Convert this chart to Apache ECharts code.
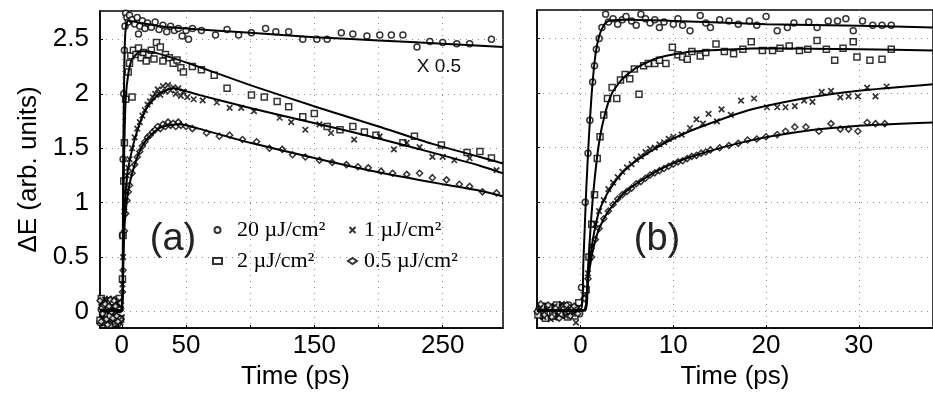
<!DOCTYPE html>
<html>
<head>
	<meta charset="utf-8">
	<title>Delta E transients</title>
	<script src="https://cdn.jsdelivr.net/npm/echarts@6/dist/echarts.min.js"></script>
</head>
<body style="margin:0;background:#fff;">
<div id="container" style="width: 933px;height: 396px;"></div>
<script type="text/javascript">
    // fluences (legend names) and their markers
    var names = ['20 µJ/cm²', '2 µJ/cm²', '1 µJ/cm²', '0.5 µJ/cm²'];
    var symbols = ['circle', 'rect', 'path://M0,0L10,10M10,0L0,10', 'diamond'];

    // axis ticks
    var yTicks = [0, 0.5, 1, 1.5, 2, 2.5];
    var xLabelsA = [0, 50, 150, 250];
    var xGridA = [0, 50, 100, 150, 200, 250];
    var xLabelsB = [0, 10, 20, 30];

    // panel (a): measured points [time ps, dE]
    var a20 = [[-17,-0.1],[-16,0.02],[-15,0.1],[-14,-0.05],[-13,0.0],[-12,0.04],[-11,-0.12],[-10,-0.08],[-9,0.09],[-8,0.06],[-7,-0.1],[-6,-0.03],[-5,0.11],[-4,0.08],[-3,-0.11],[-2,-0.06],[-1,0.03],
        [0.5,0.7],[1,1.4],[1.5,2.0],[2,2.4],[2.5,2.62],
        [3,2.74],[4,2.7],[5,2.66],[6,2.72],[8,2.68],[10,2.64],[12,2.7],[13,2.55],[14,2.62],[16,2.67],[18,2.6],[20,2.65],[23,2.61],
        [26,2.66],[29,2.59],[32,2.63],[35,2.57],[38,2.62],[41,2.58],[44,2.6],[47,2.53],[50,2.58],[52,2.5],[55,2.6],[62,2.58],
        [73,2.54],[82,2.59],[91,2.54],[101,2.56],[112,2.6],[120,2.57],[130,2.57],[141,2.5],[152,2.5],[160,2.5],[171,2.56],
        [180,2.55],[191,2.53],[201,2.54],[210,2.54],[219,2.54],[230,2.43],[240,2.48],[250,2.47],[261,2.46],[271,2.46],[288,2.5]];
    var a2 = [[-17,-0.08],[-16,0.12],[-15,0.05],[-14,0.08],[-13,-0.1],[-12,-0.02],[-11,0.1],[-10,0.03],[-9,-0.04],[-8,-0.12],[-7,0.09],[-6,0.0],[-5,-0.11],[-4,0.04],[-3,0.02],[-2,0.12],[-1,-0.07],
        [0.5,0.3],[1,0.7],[1.5,1.2],[2,1.55],[3,1.95],[5,2.2],
        [6,2.28],[7,2.35],[8,1.97],[9,2.4],[11,2.36],[13,2.42],[15,2.33],[17,2.38],[19,2.3],[21,2.36],[23,2.4],[25,2.32],
        [27,2.47],[30,2.43],[32,2.3],[34,2.36],[37,2.33],[40,2.28],[43,2.31],[46,2.24],[48,2.2],[55,2.25],[62,2.22],
        [72,2.17],[82,2.05],[101,1.99],[111,1.97],[121,1.93],[130,1.88],[141,1.79],[150,1.82],[160,1.7],[170,1.67],
        [180,1.7],[189,1.65],[198,1.62],[219,1.55],[228,1.61],[249,1.53],[269,1.46],[279,1.47],[288,1.41]];
    var a1 = [[-16,0.08],[-15,-0.06],[-14,-0.11],[-13,0.11],[-12,0.0],[-11,0.06],[-10,0.12],[-9,0.01],[-8,-0.1],[-7,0.02],[-6,0.04],[-5,-0.03],[-4,-0.12],[-3,0.07],[-2,0.1],[-1,-0.1],[0,-0.05],
        [0.5,0.25],[1,0.5],[2,0.92],[3,1.1],[4,1.25],[5,1.32],[6,1.4],[8,1.5],[10,1.6],[12,1.68],[14,1.74],[16,1.8],
        [18,1.85],[20,1.9],[22,1.93],[24,1.97],[26,2.0],[28,2.04],[30,1.99],[32,2.07],[34,2.02],[36,2.08],[38,2.03],
        [40,2.06],[42,2.0],[44,2.05],[46,1.98],[48,2.02],[51,1.97],[56,1.95],
        [63,1.94],[74,1.92],[84,1.87],[93,1.87],[103,1.84],[123,1.78],[132,1.74],[143,1.67],[154,1.72],[163,1.64],
        [181,1.58],[201,1.61],[212,1.49],[222,1.55],[232,1.51],[242,1.42],[250,1.42],[259,1.39],[271,1.41],[292,1.3]];
    var a05 = [[-17,0.1],[-16,-0.09],[-15,-0.02],[-14,0.06],[-13,0.07],[-12,-0.07],[-11,-0.12],[-10,0.05],[-9,0.11],[-8,0.0],[-7,-0.06],[-6,0.1],[-5,0.05],[-4,-0.04],[-3,-0.09],[-2,0.02],[-1,0.08],
        [0.5,0.18],[1,0.38],[2,0.74],[3,0.9],[4,1.02],[5,1.1],[6,1.16],[8,1.27],[10,1.35],[12,1.42],[14,1.47],[16,1.52],
        [18,1.56],[20,1.6],[22,1.62],[24,1.65],[26,1.67],[28,1.7],[30,1.68],[32,1.72],[34,1.7],[36,1.74],[38,1.71],
        [40,1.73],[42,1.7],[44,1.74],[46,1.71],[50,1.7],[55,1.68],
        [66,1.64],[76,1.61],[84,1.62],[94,1.58],[105,1.56],[115,1.5],[125,1.49],[133,1.44],[143,1.42],[154,1.39],
        [164,1.37],[175,1.35],[184,1.33],[192,1.32],[202,1.29],[211,1.27],[222,1.26],[232,1.27],[242,1.23],[253,1.21],
        [263,1.17],[271,1.15],[281,1.1],[292,1.09]];

    // panel (a): fitted curves
    var fitA20 = [[-17,0.01],[0,0.01],[1,1.3],[2,2.3],[3,2.6],[5,2.67],[15,2.65],[30,2.62],[50,2.6],[100,2.56],[150,2.52],[200,2.49],[250,2.46],[297,2.43]];
    var fitA2 = [[-17,0.01],[0,0.01],[1,0.7],[1.5,1.2],[2,1.55],[3,1.95],[5,2.18],[8,2.32],[15,2.39],[25,2.38],[52,2.28],[100,2.08],[154,1.87],[200,1.7],[242,1.54],[279,1.42],[297,1.36]];
    var fitA1 = [[-17,0.01],[0,0.01],[1,0.5],[2,0.92],[4,1.24],[6,1.38],[10,1.58],[15,1.76],[20,1.88],[30,2.01],[40,2.05],[60,1.99],[100,1.87],[154,1.72],[200,1.59],[242,1.46],[279,1.34],[297,1.27]];
    var fitA05 = [[-17,0.01],[0,0.01],[1,0.35],[2,0.76],[4,1.03],[6,1.17],[10,1.35],[15,1.5],[20,1.59],[30,1.69],[45,1.72],[60,1.68],[100,1.55],[154,1.4],[200,1.28],[250,1.17],[279,1.11],[297,1.06]];

    // panel (b): measured points
    var b20 = [[-4.5,0.02],[-4.1,-0.04],[-3.7,0.05],[-3.3,-0.02],[-2.9,0.03],[-2.5,-0.05],[-2.1,0.04],[-1.7,-0.03],[-1.3,0.06],[-0.9,0.0],[-0.5,0.04],[-0.1,-0.02],
        [0.1,0.22],[0.5,1.0],[0.8,1.45],[1.0,1.75],[1.3,2.1],[1.5,2.25],[1.7,2.4],[2.0,2.5],[2.3,2.6],
        [2.7,2.72],[3,2.65],[3.5,2.68],[4,2.63],[4.5,2.67],[4.9,2.7],[5.5,2.66],[6,2.62],[6.5,2.72],[7,2.68],[7.5,2.64],
        [8,2.67],[8.5,2.6],[9,2.65],[10,2.63],[10.5,2.68],[11,2.62],[11.8,2.57],[12.9,2.71],[13.5,2.64],[14,2.6],[15,2.67],
        [16,2.66],[17,2.63],[18.2,2.66],[19,2.62],[20,2.7],[21.2,2.57],[22.3,2.6],[23,2.64],[24.6,2.65],[25.5,2.6],
        [26.7,2.66],[27.7,2.66],[28.6,2.68],[29.4,2.57],[30.4,2.66],[31.5,2.62],[32.5,2.62],[33.5,2.62]];
    var b2 = [[-4.6,-0.03],[-4.2,0.05],[-3.8,-0.06],[-3.4,0.04],[-3.0,-0.04],[-2.6,0.06],[-2.2,-0.02],[-1.8,0.05],[-1.4,-0.05],[-1.0,0.03],[-0.6,-0.04],[-0.2,0.08],
        [0.6,0.2],[0.9,0.5],[1.2,0.8],[1.5,1.07],[1.8,1.4],[2.1,1.6],[2.5,1.8],[2.9,1.95],[3.4,2.05],[3.9,1.95],[4.3,2.12],
        [4.8,2.17],[5.3,2.13],[5.8,2.22],[6.3,1.99],[6.8,2.25],[7.3,2.27],[8,2.27],[8.5,2.3],[9.2,2.27],[9.9,2.42],[10.5,2.35],
        [11,2.33],[11.5,2.31],[12,2.38],[12.9,2.34],[13.5,2.37],[14.6,2.45],[15.5,2.38],[16.5,2.36],[17.5,2.4],[18.4,2.47],
        [19.6,2.39],[20.7,2.39],[21.5,2.41],[22.5,2.43],[23.6,2.39],[24.5,2.4],[25.5,2.48],[26.5,2.4],[27.4,2.3],[28.3,2.41],
        [29.4,2.47],[29.8,2.33],[31.2,2.3],[32.5,2.31],[33.5,2.4]];
    var b1 = [[-4.4,0.03],[-4.0,-0.05],[-3.6,0.02],[-3.2,-0.07],[-2.8,0.05],[-2.4,-0.03],[-2.0,0.07],[-1.6,-0.04],[-1.2,0.03],[-0.8,-0.02],[-0.5,-0.1],[-0.2,0.04],
        [0.4,0.15],[0.8,0.35],[1.2,0.6],[1.6,0.8],[2,0.92],[2.5,1.02],[3,1.12],[3.5,1.18],[4,1.23],[4.5,1.28],[5,1.32],
        [5.5,1.35],[6,1.39],[6.5,1.42],[7,1.46],[7.5,1.49],[8,1.5],[8.5,1.53],[9,1.55],[9.5,1.58],[10,1.6],[10.9,1.62],
        [11.8,1.68],[12.5,1.76],[13.2,1.72],[13.8,1.81],[14.7,1.74],[15.2,1.85],[16.2,1.8],[17.3,1.93],[18.7,1.95],[20.1,1.87],
        [21.2,1.87],[22.1,1.87],[23.1,1.88],[24.1,1.93],[25,1.92],[26,2.01],[27,2.02],[28,1.96],[28.9,1.97],[29.9,1.97],
        [30.9,2.05],[31.8,1.97],[33,2.06]];
    var b05 = [[-4.7,0.0],[-4.3,0.07],[-3.9,-0.03],[-3.5,0.06],[-3.1,-0.05],[-2.7,0.03],[-2.3,-0.06],[-1.9,0.02],[-1.5,0.06],[-1.1,-0.04],[-0.7,0.05],[-0.3,-0.02],
        [0.4,0.12],[0.8,0.3],[1.2,0.5],[1.6,0.66],[2,0.76],[2.5,0.85],[3,0.92],[3.5,0.98],[4,1.03],[4.5,1.07],[5,1.1],
        [5.5,1.13],[6,1.17],[6.5,1.19],[7,1.22],[7.5,1.25],[8,1.27],[8.5,1.29],[9,1.31],[9.5,1.33],[10,1.35],[10.5,1.37],
        [11,1.38],[11.5,1.4],[12,1.42],[12.5,1.43],[13,1.45],[13.5,1.46],[14,1.48],[15,1.5],[16,1.52],[17,1.54],[18,1.57],
        [19,1.58],[20,1.6],[21.2,1.62],[22.1,1.65],[23.1,1.69],[24.3,1.69],[25.7,1.65],[27,1.72],[28,1.67],[28.9,1.67],
        [29.9,1.65],[30.9,1.73],[31.8,1.72],[32.8,1.72]];

    // panel (b): fitted curves
    var fitB20 = [[-4.7,0.01],[0,0.01],[0.3,0.45],[0.6,1.1],[0.9,1.6],[1.2,2.0],[1.6,2.35],[2,2.52],[2.5,2.62],[3,2.66],[5,2.67],[10,2.66],[20,2.63],[30,2.615],[38,2.6]];
    var fitB2 = [[-4.7,0.01],[0.5,0.01],[0.8,0.4],[1.1,0.8],[1.5,1.2],[2,1.55],[2.6,1.8],[3.4,2.0],[4.5,2.13],[6,2.23],[8.3,2.32],[12,2.38],[20,2.41],[30,2.4],[38,2.39]];
    var fitB1 = [[-4.7,0.01],[0.3,0.01],[0.8,0.35],[1.3,0.65],[2,0.92],[3,1.1],[4.5,1.27],[6,1.38],[9,1.54],[12,1.66],[18,1.84],[24,1.95],[30,2.02],[38,2.08]];
    var fitB05 = [[-4.7,0.01],[0.3,0.01],[0.8,0.3],[1.3,0.55],[2,0.76],[3,0.92],[4.5,1.07],[6,1.17],[9,1.32],[12,1.42],[18,1.56],[24,1.65],[30,1.7],[38,1.73]];

    var pointsA = [a20, a2, a1, a05];
    var pointsB = [b20, b2, b1, b05];
    var fitsA = [fitA20, fitA2, fitA1, fitA05];
    var fitsB = [fitB20, fitB2, fitB1, fitB05];

    var sans = 'Liberation Sans';
    var gridLine = { show: true, lineStyle: { color: '#8a8a8a', type: [1, 5], width: 1 } };
    var blackLine = { onZero: false, lineStyle: { color: '#000', width: 1.5 } };

    var myChart = echarts.init(document.getElementById('container'));

    var series = [];
    [pointsA, pointsB].forEach(function (panel, p) {
        panel.forEach(function (pts, i) {
            series.push({
                name: names[i],
                type: 'scatter',
                xAxisIndex: p,
                yAxisIndex: p,
                data: pts,
                symbol: symbols[i],
                symbolSize: i == 2 ? 5.5 : 6,
                symbolKeepAspect: true,
                itemStyle: { color: '#fff', borderColor: '#000', borderWidth: i == 2 ? 1.7 : 1.5 },
                z: 2
            });
        });
    });
    [fitsA, fitsB].forEach(function (panel, p) {
        panel.forEach(function (pts, i) {
            series.push({
                name: names[i],
                type: 'line',
                xAxisIndex: p,
                yAxisIndex: p,
                data: pts,
                showSymbol: false,
                smooth: 0.2,
                lineStyle: { color: '#000', width: 2 },
                z: 3
            });
        });
    });

    var option = {
        animation: false,
        backgroundColor: '#fff',
        grid: [
            { left: 100, top: 11, width: 403, height: 317, show: true, borderColor: '#000', borderWidth: 1.5 },
            { left: 537, top: 10, width: 440, height: 318, show: true, borderColor: '#000', borderWidth: 1.5 }
        ],
        xAxis: [
            {
                gridIndex: 0, type: 'value', min: -17, max: 297,
                axisLine: blackLine,
                axisTick: { inside: true, length: 3, customValues: xGridA, lineStyle: { color: '#000' } },
                axisLabel: { customValues: xLabelsA, margin: 5, color: '#000', fontSize: 26, fontFamily: sans },
                splitLine: gridLine,
                name: 'Time (ps)', nameLocation: 'middle', nameGap: 33,
                nameTextStyle: { color: '#000', fontSize: 26, fontFamily: sans, padding: [0, 12, 0, 0] }
            },
            {
                gridIndex: 1, type: 'value', min: -4.7, max: 38,
                axisLine: blackLine,
                axisTick: { inside: true, length: 3, customValues: xLabelsB, lineStyle: { color: '#000' } },
                axisLabel: { customValues: xLabelsB, margin: 5, color: '#000', fontSize: 26, fontFamily: sans },
                splitLine: gridLine,
                name: 'Time (ps)', nameLocation: 'middle', nameGap: 33,
                nameTextStyle: { color: '#000', fontSize: 26, fontFamily: sans }
            }
        ],
        yAxis: [
            {
                gridIndex: 0, type: 'value', min: -0.15, max: 2.76,
                axisLine: blackLine,
                axisTick: { inside: true, length: 3, customValues: yTicks, lineStyle: { color: '#000' } },
                axisLabel: { customValues: yTicks, margin: 11, color: '#000', fontSize: 26, fontFamily: sans },
                splitLine: gridLine,
                name: 'ΔE (arb. units)', nameLocation: 'middle', nameGap: 58, nameRotate: 90,
                nameTextStyle: { color: '#000', fontSize: 26, fontFamily: sans }
            },
            {
                gridIndex: 1, type: 'value', min: -0.15, max: 2.76,
                axisLine: blackLine,
                axisTick: { inside: true, length: 3, customValues: yTicks, lineStyle: { color: '#000' } },
                axisLabel: { show: false },
                splitLine: gridLine
            }
        ],
        legend: [
            {
                data: [names[0], names[1]], orient: 'vertical', left: 207, top: 214,
                itemWidth: 9, itemHeight: 6, itemGap: 9, selectedMode: false,
                textStyle: { color: '#000', fontSize: 22, fontFamily: 'Liberation Serif', padding: [0, 0, 0, 10] }
            },
            {
                data: [names[2], names[3]], orient: 'vertical', left: 342, top: 214,
                itemWidth: 9, itemHeight: 6, itemGap: 9, selectedMode: false,
                textStyle: { color: '#000', fontSize: 22, fontFamily: 'Liberation Serif', padding: [0, 0, 0, 2] }
            }
        ],
        graphic: [
            { type: 'text', x: 173, y: 240, style: { text: '(a)', font: '38px Liberation Sans', fill: '#222', align: 'center', verticalAlign: 'middle' } },
            { type: 'text', x: 657, y: 240, style: { text: '(b)', font: '38px Liberation Sans', fill: '#222', align: 'center', verticalAlign: 'middle' } },
            { type: 'text', x: 439, y: 67, style: { text: 'X 0.5', font: '19px Liberation Sans', fill: '#111', align: 'center', verticalAlign: 'middle' } }
        ],
        series: series
    };

    myChart.setOption(option);
    window.addEventListener('resize', myChart.resize);
</script>
</body>
</html>
